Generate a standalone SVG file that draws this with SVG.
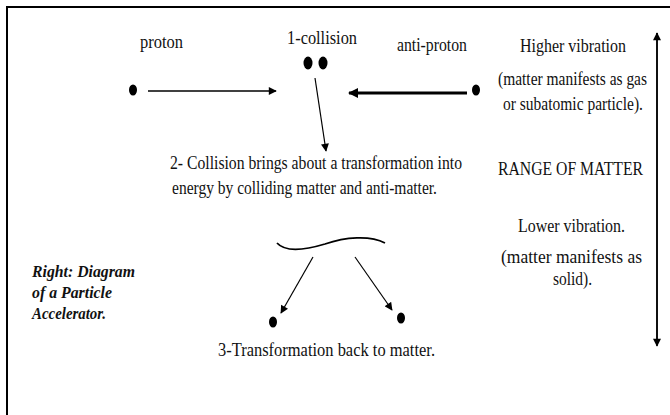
<svg xmlns="http://www.w3.org/2000/svg" width="670" height="415" viewBox="0 0 670 415">
<style>
text{font-family:'Liberation Serif','DejaVu Serif',serif;font-size:18px;fill:#111}
.i{font-style:italic;font-weight:bold;font-size:17px}
.ln{stroke:#000;fill:none}
.dot{fill:#000}
</style>
<defs>
<marker id="ah" viewBox="0 0 10 10" refX="9" refY="5" markerWidth="9" markerHeight="8" markerUnits="userSpaceOnUse" orient="auto">
<path d="M0,0 L10,5 L0,10 z" fill="#000"/>
</marker>
<marker id="ahb" viewBox="0 0 10 10" refX="9" refY="5" markerWidth="12" markerHeight="10" markerUnits="userSpaceOnUse" orient="auto">
<path d="M0,0 L10,5 L0,10 z" fill="#000"/>
</marker>
</defs>
<rect width="670" height="415" fill="#fff"/>
<path class="ln" d="M7,415 V7 H670" stroke-width="2"/>

<g id="proton">
<text x="140" y="48" textLength="43" lengthAdjust="spacingAndGlyphs">proton</text>
<ellipse class="dot" cx="133" cy="90" rx="4" ry="5.5"/>
</g>
<g id="collision">
<text x="287" y="44" textLength="70" lengthAdjust="spacingAndGlyphs">1-collision</text>
<ellipse class="dot" cx="308" cy="63" rx="4.5" ry="6.5"/>
<ellipse class="dot" cx="323" cy="63" rx="4.5" ry="6.5"/>
</g>
<g id="antiproton">
<text x="397" y="51" textLength="70" lengthAdjust="spacingAndGlyphs">anti-proton</text>
<ellipse class="dot" cx="476" cy="90" rx="4" ry="5.5"/>
</g>
<g id="step2">
<text x="170" y="169" textLength="292" lengthAdjust="spacingAndGlyphs">2- Collision brings about a transformation into</text>
<text x="172" y="194" textLength="265" lengthAdjust="spacingAndGlyphs">energy by colliding matter and anti-matter.</text>
</g>
<g id="energy">
<path class="ln" stroke-width="1.8" d="M277,243 C285,252 305,250 325,244 C345,237 370,235 385,243"/>
</g>
<g id="matter-left">
<ellipse class="dot" cx="273" cy="322" rx="4" ry="5.5"/>
</g>
<g id="matter-right">
<ellipse class="dot" cx="401" cy="318" rx="4" ry="5.5"/>
</g>
<g id="step3">
<text x="218" y="356" textLength="217" lengthAdjust="spacingAndGlyphs">3-Transformation back to matter.</text>
</g>
<g id="caption">
<text class="i" x="32" y="277" textLength="103" lengthAdjust="spacingAndGlyphs">Right: Diagram</text>
<text class="i" x="32" y="298" textLength="80" lengthAdjust="spacingAndGlyphs">of a Particle</text>
<text class="i" x="32" y="319" textLength="74" lengthAdjust="spacingAndGlyphs">Accelerator.</text>
</g>
<g id="higher">
<text x="520" y="52" textLength="106" lengthAdjust="spacingAndGlyphs">Higher vibration</text>
<text x="498" y="85" textLength="149" lengthAdjust="spacingAndGlyphs">(matter manifests as gas</text>
<text x="503" y="110" textLength="140" lengthAdjust="spacingAndGlyphs">or subatomic particle).</text>
</g>
<g id="range">
<text x="498" y="175" textLength="145" lengthAdjust="spacingAndGlyphs">RANGE OF MATTER</text>
</g>
<g id="lower">
<text x="518" y="232" textLength="107" lengthAdjust="spacingAndGlyphs">Lower vibration.</text>
<text x="501" y="263" textLength="141" lengthAdjust="spacingAndGlyphs">(matter manifests as</text>
<text x="553" y="285" textLength="39" lengthAdjust="spacingAndGlyphs">solid).</text>
</g>

<g id="connectors">
<line class="ln" x1="148" y1="91" x2="276" y2="91" stroke-width="1.3" marker-end="url(#ah)"/>
<line class="ln" x1="467" y1="93" x2="349" y2="93" stroke-width="3" marker-end="url(#ahb)"/>
<line class="ln" x1="315" y1="78" x2="326" y2="151" stroke-width="1.2" marker-end="url(#ah)"/>
<line class="ln" x1="313" y1="257" x2="281" y2="313" stroke-width="1.2" marker-end="url(#ah)"/>
<line class="ln" x1="355" y1="257" x2="392" y2="310" stroke-width="1.2" marker-end="url(#ah)"/>
<line class="ln" x1="657" y1="345" x2="657" y2="33" stroke-width="1.5" marker-end="url(#ah)"/>
<line class="ln" x1="657" y1="33" x2="657" y2="346" stroke-width="1.5" marker-end="url(#ah)"/>
</g>
</svg>
